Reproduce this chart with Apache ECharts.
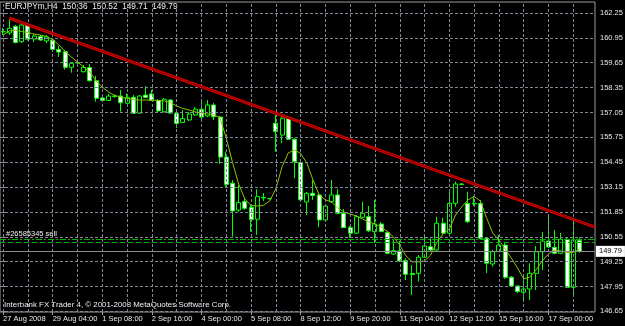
<!DOCTYPE html>
<html><head><meta charset="utf-8">
<script src="https://cdn.jsdelivr.net/npm/echarts@6/dist/echarts.min.js"></script>
<style>html,body{margin:0;padding:0;background:#000;}#c{width:625px;height:326px;}</style>
</head><body><div id="c"></div>
<script>
// ---- data (EURJPYm, H4) ----
const opens = [161.26,161.21,161.55,160.75,161.62,160.89,161.02,160.79,160.84,160.34,
160.23,159.41,159.66,159.18,159.40,158.71,157.81,157.68,157.91,157.91,
157.53,157.84,157.02,157.96,158.02,157.67,157.09,157.70,157.01,156.52,
156.66,156.92,157.22,156.87,157.44,156.81,154.72,153.35,151.95,152.39,
152.09,151.47,152.61,152.55,156.49,155.87,156.75,155.65,154.43,152.37,
152.83,152.74,151.43,152.39,152.74,151.78,151.03,150.74,151.57,151.60,
150.82,151.22,150.77,149.65,149.81,149.31,148.63,148.64,149.48,150.03,
149.86,151.26,150.74,152.30,153.31,152.30,152.30,152.29,150.47,149.13,
149.77,150.12,148.44,147.98,147.65,147.82,148.64,149.77,150.33,150.00,
149.69,150.42,147.91,150.36];
const highs = [161.47,161.97,161.62,161.73,161.73,161.15,161.10,161.10,160.93,160.53,
160.32,159.69,159.74,159.53,159.58,158.96,157.86,158.02,157.99,158.23,
158.05,157.96,157.96,158.43,158.23,157.75,157.81,157.75,157.07,157.18,
157.07,157.34,157.70,157.70,157.55,156.87,155.00,153.52,153.26,152.53,
152.21,153.04,152.84,152.58,156.92,156.87,156.83,155.72,154.57,152.89,
153.52,152.84,152.27,153.52,153.04,152.00,151.12,151.69,152.39,152.16,
152.48,151.33,150.86,150.42,150.33,149.44,149.08,149.60,150.65,150.47,
151.60,151.54,152.91,153.43,153.36,152.91,152.69,152.48,150.54,149.86,
150.65,150.23,148.50,148.03,148.47,149.17,150.07,150.80,151.60,150.91,
150.75,150.54,151.38,150.52];
const lows = [161.10,161.10,160.66,160.68,160.81,160.73,160.79,160.68,160.32,159.95,
159.30,159.13,159.58,159.14,158.67,157.62,157.62,157.65,157.81,157.09,
157.49,156.97,156.97,157.81,157.65,157.08,157.05,156.97,156.24,156.50,
156.60,156.87,156.66,156.81,156.66,154.36,153.16,150.56,151.85,151.95,
150.82,150.65,152.42,152.50,155.00,155.44,155.61,153.61,152.37,151.69,
152.48,151.06,151.33,152.32,151.74,151.01,150.49,150.70,151.54,150.80,
150.23,150.80,149.65,149.60,149.24,148.29,147.51,148.21,149.45,149.81,
149.81,150.70,150.70,152.13,153.26,151.27,152.16,150.39,148.66,148.99,
149.76,148.35,147.93,147.61,147.14,147.25,147.77,148.82,149.97,149.65,
149.65,147.88,147.46,149.71];
const closes = [161.28,161.45,160.71,161.62,160.88,161.05,160.84,161.00,160.35,160.21,
159.41,159.62,159.64,159.41,158.71,157.79,157.68,157.91,157.89,157.56,
157.84,157.01,157.91,157.83,157.67,157.13,157.74,157.02,156.48,156.73,
156.97,157.22,156.81,157.44,156.83,154.72,153.29,151.90,152.34,152.04,
151.46,152.65,152.58,152.54,156.05,156.75,155.65,154.48,152.48,152.82,
152.71,151.43,152.16,152.74,151.78,151.03,150.74,151.60,151.78,150.87,
151.22,150.82,149.69,149.83,149.29,148.59,148.58,149.48,150.07,149.86,
151.26,150.74,152.30,153.31,153.29,151.34,152.27,150.47,149.17,149.77,
150.12,148.43,147.98,147.69,147.82,148.64,149.77,150.33,150.02,149.69,
150.42,147.91,150.39,149.79];
const maValues = [161.10,161.31,161.34,161.28,161.23,161.15,161.10,161.02,160.86,160.58,
160.24,159.95,159.69,159.43,159.17,158.70,158.38,158.12,157.94,157.86,
157.78,157.73,157.70,157.70,157.70,157.68,157.65,157.57,157.39,157.26,
157.18,157.08,157.02,156.97,156.95,156.76,155.72,154.46,153.31,152.53,
152.19,152.16,152.19,152.42,153.05,154.20,154.93,155.09,154.91,154.41,
153.52,152.74,152.48,152.37,152.06,151.85,151.74,151.64,151.48,151.33,
151.22,151.06,150.83,150.54,150.12,149.55,149.24,149.24,149.29,149.60,
150.28,150.70,150.96,151.69,152.11,152.48,152.66,152.42,151.54,150.75,
150.39,149.91,149.44,148.92,148.35,148.45,148.82,149.29,149.65,149.86,
149.81,149.73,149.73,149.91];
const xLabelBars = [0,8,16,24,32,40,48,56,64,72,80,88];
const xLabels = ['27 Aug 2008','29 Aug 04:00','1 Sep 08:00','2 Sep 16:00','4 Sep 00:00','5 Sep 08:00',
  '8 Sep 12:00','9 Sep 20:00','11 Sep 04:00','12 Sep 12:00','15 Sep 16:00','17 Sep 00:00'];
const yTicks = [146.65,147.95,149.25,150.55,151.85,153.15,154.45,155.75,157.05,158.35,159.65,160.95,162.25];
const trendBars = [0.95, 95.5];
const trendPrices = [161.99, 151.06];
const orderLevels = [150.42, 150.24];
const orderLabel = '#26585345 sell';
const lastPrice = 149.79;
const titleText = 'EURJPYm,H4  150.36  150.52  149.71  149.79';
const footerText = 'Interbank FX Trader 4, \u00a9 2001-2008 MetaQuotes Software Corp.';
const totalSlots = 96;
const gridEvery = 4;

// ---- build ----
const FONT = 'Liberation Sans';
const cats = [];
for (let i = 0; i < totalSlots; i++) cats.push('b' + i);
const candles = opens.map((o, i) => [o, closes[i], lows[i], highs[i]]);
const maData = maValues.map((v, i) => ['b' + i, v]);
const trendData = trendBars.map((b, i) => [b, trendPrices[i]]);
const labelMap = {};
xLabelBars.forEach((b, i) => { labelMap[b] = xLabels[i]; });

const gridLineStyle = { color: '#7d8894', width: 1, type: [3, 2] };
const gridMarks = [];
yTicks.forEach(v => gridMarks.push({
  yAxis: v, lineStyle: gridLineStyle,
  label: { show: true, position: 'end', distance: 5, formatter: v.toFixed(2), color: '#e8e8e8', fontSize: 7.5, fontFamily: FONT }
}));
for (let i = 0; i < opens.length; i += gridEvery) {
  gridMarks.push({ xAxis: 'b' + i, lineStyle: gridLineStyle, label: { show: false } });
}
const tradeMarks = [
  { yAxis: orderLevels[0], lineStyle: { color: '#00b400', width: 1, type: [6, 2, 2, 2] },
    label: { show: true, position: 'insideStartTop', distance: [6, 1], formatter: orderLabel, color: '#f0f0f0', fontSize: 7.5, fontFamily: FONT } },
  { yAxis: orderLevels[1], lineStyle: { color: '#00b400', width: 1, type: [5, 3] }, label: { show: false } },
  { yAxis: lastPrice, lineStyle: { color: '#8a8a8a', width: 1, type: 'solid' },
    label: { show: true, position: 'end', distance: 1, formatter: lastPrice.toFixed(2), color: '#000', backgroundColor: '#fff',
      padding: [2, 3, 1, 3], fontSize: 7.5, fontFamily: FONT } }
];

const chart = echarts.init(document.getElementById('c'), null, { renderer: 'canvas' });
chart.setOption({
  backgroundColor: '#000',
  animation: false,
  grid: { left: 0, right: 30, top: 2, bottom: 14, show: true, borderColor: '#9a9a9a', borderWidth: 1, backgroundColor: 'transparent' },
  xAxis: [
    { type: 'category', data: cats, boundaryGap: true,
      axisLine: { show: false },
      axisTick: { show: true, alignWithLabel: true, length: 3, interval: (i) => labelMap[i] !== undefined, lineStyle: { color: '#9a9a9a' } },
      axisLabel: { show: true, interval: (i) => labelMap[i] !== undefined, formatter: (v, i) => labelMap[i] || '',
        align: 'left', margin: 3, color: '#e8e8e8', fontSize: 7.5, fontFamily: FONT, hideOverlap: false },
      splitLine: { show: false } },
    { type: 'value', min: -0.5, max: totalSlots - 0.5, show: false, splitLine: { show: false } }
  ],
  yAxis: [{ type: 'value', position: 'right', min: 146.62, max: 162.825, show: true,
    axisLine: { show: false }, axisLabel: { show: false }, splitLine: { show: false },
    axisTick: { show: true, length: 3, customValues: yTicks, lineStyle: { color: '#9a9a9a' } } }],
  graphic: [
    { type: 'text', left: 5, top: 3, style: { text: titleText, fill: '#f0f0f0', fontSize: 8.3, fontFamily: FONT, whiteSpace: 'pre' } },
    { type: 'text', left: 4, top: 301, style: { text: footerText, fill: '#f0f0f0', fontSize: 7.9, fontFamily: FONT } }
  ],
  series: [
    { type: 'line', data: [], z: 1, silent: true,
      markLine: { silent: true, symbol: 'none', animation: false, data: gridMarks.concat(tradeMarks) } },
    { type: 'candlestick', data: candles, z: 3, barWidth: 4.5,
      itemStyle: { color: '#000000', color0: '#ffffff', borderColor: '#00ff00', borderColor0: '#00ff00', borderColorDoji: '#00ff00', borderWidth: 1 } },
    { type: 'line', data: maData, z: 4, symbol: 'none', showSymbol: false, lineStyle: { color: '#8fc400', width: 1 } },
    { type: 'line', xAxisIndex: 1, data: trendData, z: 5, symbol: 'none', showSymbol: false, lineStyle: { color: '#e00000', width: 3 } },
    { type: 'line', xAxisIndex: 1, data: trendData, z: 6, symbol: 'none', showSymbol: false, lineStyle: { color: '#7a0000', width: 1 } }
  ]
});
</script></body></html>
